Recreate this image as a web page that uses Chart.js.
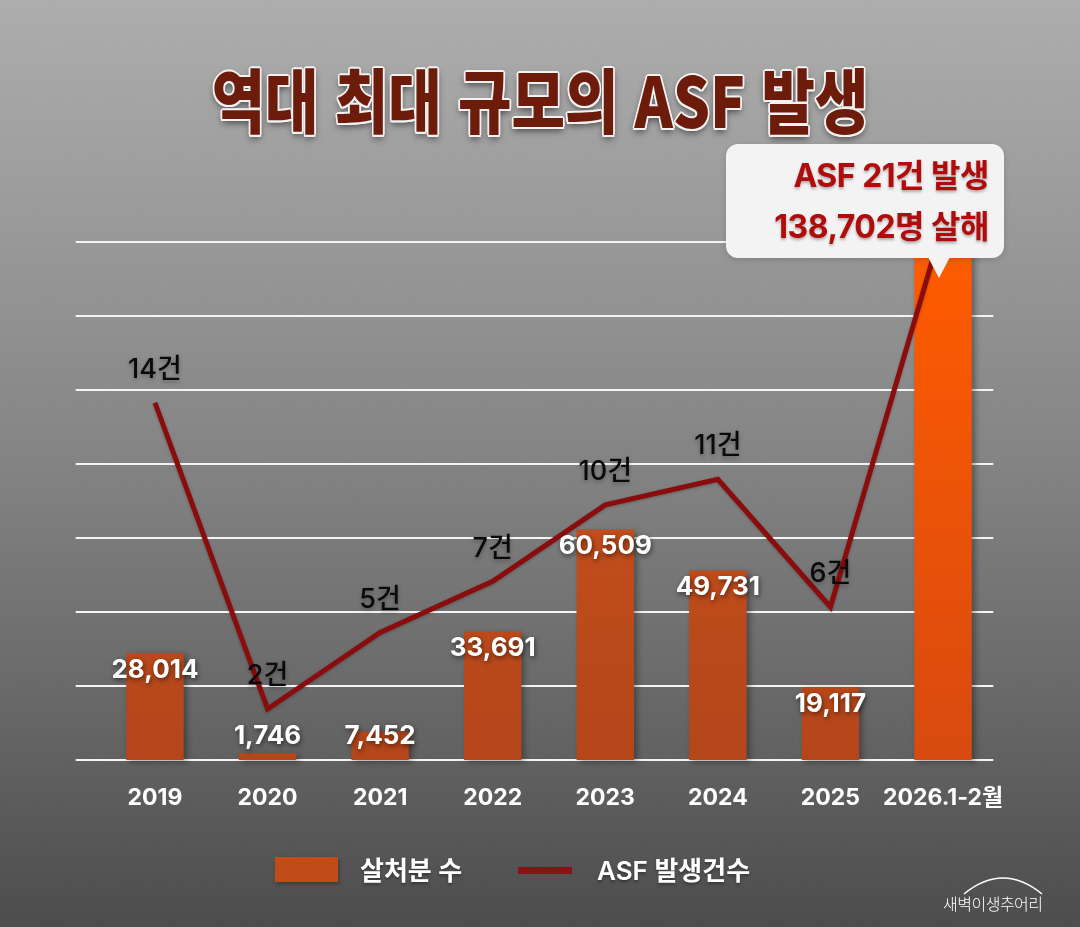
<!DOCTYPE html>
<html lang="ko">
<head>
<meta charset="utf-8">
<script src="https://cdn.jsdelivr.net/npm/chart.js@4.4.1/dist/chart.umd.min.js"></script>
<style>
  html, body { margin: 0; padding: 0; }
  body { width: 1080px; height: 927px; overflow: hidden; }
  #wrap {
    position: relative; width: 1080px; height: 927px; overflow: hidden;
    background: linear-gradient(180deg, #b2b2b2 0%, #9c9c9c 25%, #848484 50%, #676767 75%, #484848 100%);
    font-family: Inter, 'Noto Sans CJK KR', sans-serif;
  }
  #noise {
    position: absolute; inset: 0; opacity: 0.35; pointer-events: none;
    background-image: url("data:image/svg+xml;utf8,<svg xmlns='http://www.w3.org/2000/svg' width='300' height='300'><filter id='n'><feTurbulence type='fractalNoise' baseFrequency='0.85' numOctaves='2' stitchTiles='stitch'/><feColorMatrix values='0 0 0 0 0.2  0 0 0 0 0.2  0 0 0 0 0.2  0 0 0 0.5 0'/></filter><rect width='100%' height='100%' filter='url(%23n)'/></svg>");
  }
  canvas { position: absolute; left: 0; top: 0; }
  #title {
    position: absolute; left: 0; top: 63px; width: 1080px; text-align: center;
    font-family: 'Noto Sans CJK KR', sans-serif; font-weight: 900; font-size: 70px; line-height: 70px;
    color: #6d1b0b; transform: scaleX(0.83); white-space: nowrap;
    text-shadow:
      2px 0 0 #f2f2f2, -2px 0 0 #f2f2f2, 0 2px 0 #f2f2f2, 0 -2px 0 #f2f2f2,
      1.5px 1.5px 0 #f2f2f2, -1.5px 1.5px 0 #f2f2f2, 1.5px -1.5px 0 #f2f2f2, -1.5px -1.5px 0 #f2f2f2,
      0 4px 8px rgba(0,0,0,0.55);
  }
  #callout {
    position: absolute; left: 726px; top: 144px; width: 278px; height: 114px;
    box-sizing: border-box; padding: 6px 15px 0 0; border-radius: 12px;
    background: #f3f3f3; text-align: right; color: #b00c0c;
    font-weight: 700; font-size: 32px; line-height: 51px; letter-spacing: -0.5px;
    text-shadow: 0 2px 3px rgba(0,0,0,0.3);
    box-shadow: 0 2px 6px rgba(0,0,0,0.15);
  }
  #callout::after {
    content: ''; position: absolute; left: 202px; top: 113px;
    border-left: 11px solid transparent; border-right: 11px solid transparent;
    border-top: 21px solid #f3f3f3;
  }
  .legend-box { position: absolute; left: 275px; top: 857px; width: 63px; height: 25px; background: #c24c17; box-shadow: 1px 2px 4px rgba(0,0,0,0.3); }
  .legend-line { position: absolute; left: 518px; top: 867px; width: 54px; height: 7px; background: #8b1212; }
  .legend-text { position: absolute; top: 853px; color: #fff; font-size: 26px; font-weight: 600; line-height: 36px; text-shadow: 0 2px 3px rgba(0,0,0,0.35); white-space: nowrap; }
  #mark { position: absolute; left: 943px; top: 893px; color: #fff; font-size: 16px; font-weight: 300; line-height: 20px; font-family: 'Noto Sans CJK KR', sans-serif; letter-spacing: -0.5px; }
  #arc { position: absolute; left: 960px; top: 870px; }
</style>
</head>
<body>
<div id="wrap">
  <div id="noise"></div>
  <canvas id="chart" width="1080" height="927"></canvas>
  <div id="title">역대 최대 규모의 ASF 발생</div>
  <div id="callout"><div>ASF 21건 발생</div><div>138,702명 살해</div></div>
  <div class="legend-box"></div>
  <div class="legend-text" style="left:360px">살처분 수</div>
  <div class="legend-line"></div>
  <div class="legend-text" style="left:597px">ASF 발생건수</div>
  <svg id="arc" width="86" height="26"><path d="M4 24 Q43 -8 82 24" fill="none" stroke="#fff" stroke-width="1.5"/></svg>
  <div id="mark">새벽이생추어리</div>
</div>
<script>
  // values
  const categories = ['2019', '2020', '2021', '2022', '2023', '2024', '2025', '2026.1-2월'];
  const culled = [28014, 1746, 7452, 33691, 60509, 49731, 19117, 138702];
  const outbreaks = [14, 2, 5, 7, 10, 11, 6, 21];
  const gridTicks = [0, 1, 2, 3, 4, 5, 6, 7];
  const highlight = categories.length - 1;   // last bar is covered by the callout

  const fontStack = "Inter, 'Noto Sans CJK KR', sans-serif";

  // white grid lines, drawn wider than the plot area like the original
  const gridPlugin = {
    id: 'grid',
    beforeDatasetsDraw(chart) {
      const { ctx, chartArea, scales } = chart;
      ctx.save();
      ctx.strokeStyle = '#f4f4f4';
      ctx.lineWidth = 2;
      gridTicks.forEach(v => {
        const y = Math.round(scales.grid.getPixelForValue(v));
        ctx.beginPath();
        ctx.moveTo(chartArea.left - 23, y);
        ctx.lineTo(chartArea.right - 6, y);
        ctx.stroke();
      });
      ctx.restore();
    },
    beforeDatasetDraw(chart, args) {
      const ctx = chart.ctx;
      ctx.save();
      if (args.meta.type === 'bar') {
        ctx.shadowColor = 'rgba(0,0,0,0.35)';
        ctx.shadowBlur = 6;
        ctx.shadowOffsetX = 3;
        ctx.shadowOffsetY = 2;
      } else {
        ctx.shadowColor = 'rgba(0,0,0,0.25)';
        ctx.shadowBlur = 3;
        ctx.shadowOffsetY = 1;
      }
    },
    afterDatasetDraw(chart) {
      chart.ctx.restore();
    }
  };

  const labelPlugin = {
    id: 'labels',
    afterDatasetsDraw(chart) {
      const { ctx, chartArea } = chart;
      const barMeta = chart.getDatasetMeta(0);
      const lineMeta = chart.getDatasetMeta(1);
      ctx.save();
      ctx.textAlign = 'center';
      ctx.textBaseline = 'middle';

      // bar values
      ctx.font = 'bold 26px ' + fontStack;
      ctx.fillStyle = '#ffffff';
      ctx.shadowColor = 'rgba(0,0,0,0.55)';
      ctx.shadowBlur = 5;
      ctx.shadowOffsetX = 1;
      ctx.shadowOffsetY = 2;
      barMeta.data.forEach((bar, i) => {
        if (i === highlight) return;
        const y = Math.min(bar.y + 17, chartArea.bottom - 24);
        ctx.fillText(culled[i].toLocaleString('en-US'), bar.x, y);
      });

      // outbreak counts
      ctx.font = '500 27px ' + fontStack;
      ctx.fillStyle = '#0a0a0a';
      ctx.shadowColor = 'rgba(0,0,0,0.3)';
      ctx.shadowBlur = 4;
      ctx.shadowOffsetX = 0;
      ctx.shadowOffsetY = 2;
      lineMeta.data.forEach((pt, i) => {
        if (i === highlight) return;
        ctx.fillText(outbreaks[i] + '건', pt.x, pt.y - 33);
      });
      ctx.restore();
    }
  };

  new Chart(document.getElementById('chart'), {
    data: {
      labels: categories,
      datasets: [
        {
          type: 'bar',
          label: '살처분 수',
          data: culled,
          yAxisID: 'y',
          order: 2,
          clip: false,
          barPercentage: 0.51,
          categoryPercentage: 1,
          borderWidth: 0,
          backgroundColor: (c) => {
            const area = c.chart.chartArea;
            if (!area) return '#c24c17';
            const g = c.chart.ctx.createLinearGradient(0, area.top, 0, area.bottom);
            if (c.dataIndex === highlight) {
              g.addColorStop(0, '#ff5c00');
              g.addColorStop(1, '#d84a10');
            } else {
              g.addColorStop(0, '#d0561e');
              g.addColorStop(1, '#b4461a');
            }
            return g;
          }
        },
        {
          type: 'line',
          label: 'ASF 발생건수',
          data: outbreaks,
          yAxisID: 'y1',
          order: 1,
          clip: false,
          borderColor: '#8a0c0c',
          borderWidth: 5,
          pointRadius: 0,
          tension: 0,
          fill: false
        }
      ]
    },
    options: {
      responsive: false,
      animation: false,
      devicePixelRatio: 1,
      layout: { padding: { left: 98.7, right: 80.7, top: 242, bottom: 107 } },
      plugins: {
        legend: { display: false },
        tooltip: { enabled: false },
        title: { display: false }
      },
      scales: {
        x: {
          offset: true,
          grid: { display: false, drawTicks: false },
          border: { display: false },
          ticks: {
            color: '#ffffff',
            padding: 24,
            maxRotation: 0,
            minRotation: 0,
            autoSkip: false,
            font: { family: fontStack, size: 23, weight: 'bold' }
          },
          afterFit: (s) => { s.height = 60; }
        },
        y: { type: 'linear', axis: 'y', display: false, min: 0, max: 136000 },
        y1: { type: 'linear', axis: 'y', display: false, min: 0, max: 20.3 },
        grid: { type: 'linear', axis: 'y', display: false, min: 0, max: 7 }
      }
    },
    plugins: [gridPlugin, labelPlugin]
  });
</script>
</body>
</html>
